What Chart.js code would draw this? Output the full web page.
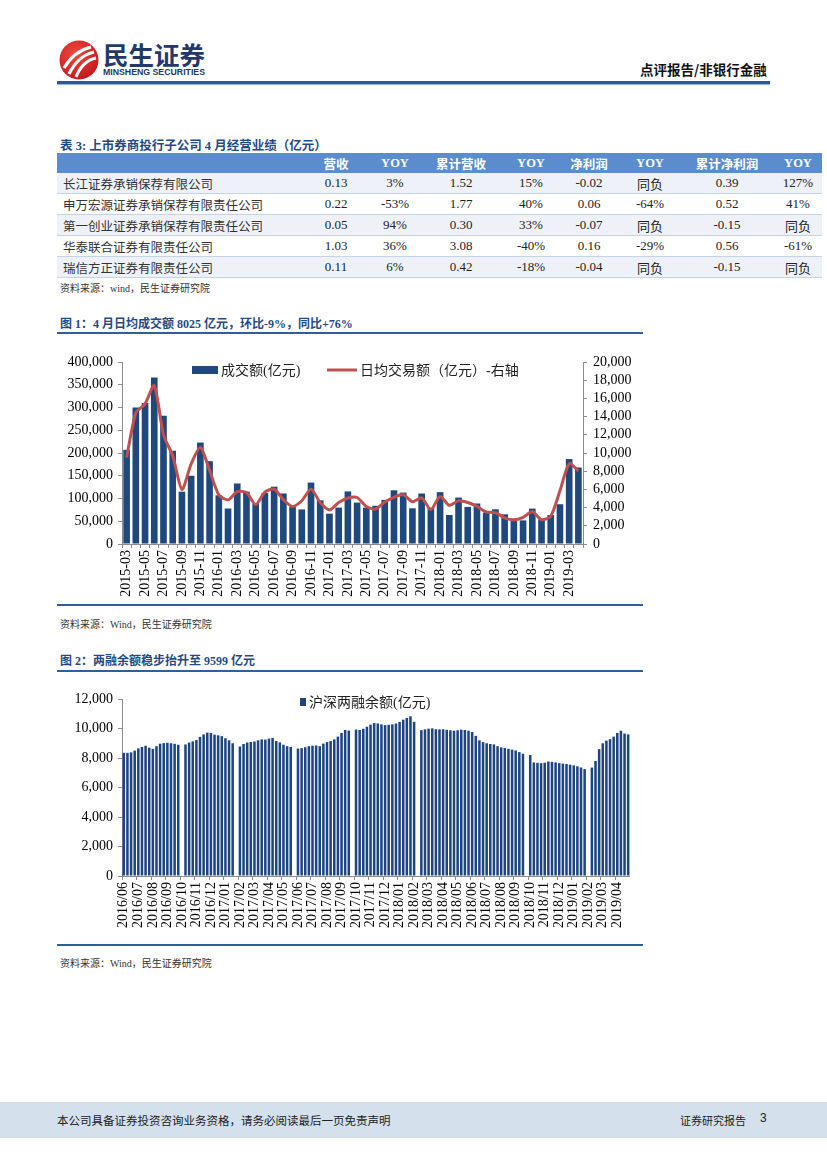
<!DOCTYPE html>
<html lang="zh-CN">
<head>
<meta charset="utf-8">
<title>点评报告/非银行金融</title>
<script src="https://cdn.jsdelivr.net/npm/chart.js@4.4.1/dist/chart.umd.min.js"></script>
<style>
  html, body { margin: 0; padding: 0; background: #fff; }
  body {
    width: 827px; height: 1169px; position: relative; overflow: hidden;
    font-family: "Liberation Serif", "Noto Sans CJK SC", serif; color: #222;
  }
  .abs { position: absolute; }
  .title { font-size: 12px; font-weight: bold; color: #1f4a86; white-space: nowrap; }
  .rule { background: #2d5f9f; height: 2px; }
  .src { font-size: 10px; color: #333; white-space: nowrap; }
  table { border-collapse: collapse; table-layout: fixed; font-size: 13px; }
  th { background: #5b8ccc; color: #fff; font-weight: bold; height: 20px; padding: 0;
       font-family: "Liberation Serif", "Noto Sans CJK SC", serif; font-size: 12.5px; }
  td { height: 20px; padding: 0; text-align: center; border-bottom: 1px solid #c3d3e8; }
  td.name { text-align: left; padding-left: 6px; font-size: 12.5px; color: #333; }
  tr.band td { background: #eef2f8; }
</style>
</head>
<body>

<!-- header -->
<svg class="abs" style="left:57px;top:38px" width="160" height="44">
  <defs>
    <radialGradient id="rg" cx="40%" cy="35%" r="70%">
      <stop offset="0" stop-color="#ef4a3f"/>
      <stop offset="1" stop-color="#c4161c"/>
    </radialGradient>
  </defs>
  <circle cx="22" cy="22" r="19.5" fill="url(#rg)"/>
  <path d="M7 30 C14 18 22 12 34 9" stroke="#fff" stroke-width="3.2" fill="none"/>
  <path d="M12 36 C18 24 25 17 37 14" stroke="#fff" stroke-width="3.2" fill="none"/>
  <path d="M19 39 C23 29 29 22 39 20" stroke="#fff" stroke-width="3" fill="none"/>
  <text x="46" y="27" font-family="Noto Sans CJK SC" font-weight="bold" font-size="25" fill="#24386a"
        textLength="102" lengthAdjust="spacingAndGlyphs">民生证券</text>
  <text x="46" y="37" font-family="Liberation Sans" font-weight="bold" font-size="8.5" fill="#24386a"
        textLength="102" lengthAdjust="spacingAndGlyphs">MINSHENG SECURITIES</text>
</svg>
<div class="abs" style="left:640px;top:59px;font-size:13.5px;font-weight:bold;color:#111;font-family:'Noto Sans CJK SC'">点评报告/非银行金融</div>
<div class="abs" style="left:57px;top:81px;width:713px;height:3px;background:#27589a"></div>
<div class="abs" style="left:57px;top:84px;width:713px;height:1px;background:#9ab7dd"></div>

<!-- table -->
<div class="abs title" style="left:60px;top:135px;font-size:12.5px">表 3: 上市券商投行子公司 4 月经营业绩（亿元）</div>
<table class="abs" id="tbl" style="left:57px;top:153px;width:765px">
  <colgroup>
    <col style="width:243px"><col style="width:72px"><col style="width:46px"><col style="width:86px">
    <col style="width:54px"><col style="width:62px"><col style="width:60px"><col style="width:94px"><col style="width:48px">
  </colgroup>
  <thead><tr id="thead"></tr></thead>
  <tbody id="tbody"></tbody>
</table>
<div class="abs src" style="left:60px;top:280px">资料来源：wind，民生证券研究院</div>

<!-- figure 1 -->
<div class="abs title" style="left:60px;top:314px">图 1：4 月日均成交额 8025 亿元，环比-9%，同比+76%</div>
<div class="abs rule" style="left:57px;top:332px;width:586px"></div>
<canvas class="abs" id="chart1" width="590" height="260" style="left:57px;top:345px"></canvas>
<div class="abs rule" style="left:57px;top:604px;width:586px"></div>
<div class="abs src" style="left:60px;top:616px">资料来源：Wind，民生证券研究院</div>

<!-- figure 2 -->
<div class="abs title" style="left:60px;top:651px">图 2：两融余额稳步抬升至 9599 亿元</div>
<div class="abs rule" style="left:57px;top:670px;width:586px"></div>
<canvas class="abs" id="chart2" width="590" height="255" style="left:57px;top:685px"></canvas>
<div class="abs rule" style="left:57px;top:944px;width:586px"></div>
<div class="abs src" style="left:60px;top:955px">资料来源：Wind，民生证券研究院</div>

<!-- footer -->
<div class="abs" style="left:0;top:1102px;width:827px;height:36px;background:#d5e0ed"></div>
<div class="abs" style="left:57px;top:1112px;font-size:11.5px;color:#222;font-family:'Noto Sans CJK SC'">本公司具备证券投资咨询业务资格，请务必阅读最后一页免责声明</div>
<div class="abs" style="left:680px;top:1112px;font-size:11px;color:#222;font-family:'Noto Sans CJK SC'">证券研究报告</div>
<div class="abs" style="left:760px;top:1111px;font-size:12px;color:#222;font-family:'Liberation Sans'">3</div>

<script>
// ---- table 3 ----
const tableHeads = ["", "营收", "YOY", "累计营收", "YOY", "净利润", "YOY", "累计净利润", "YOY"];
const companies = ["长江证券承销保荐有限公司", "申万宏源证券承销保荐有限责任公司", "第一创业证券承销保荐有限责任公司",
                   "华泰联合证券有限责任公司", "瑞信方正证券有限责任公司"];
const revenue = ["0.13", "0.22", "0.05", "1.03", "0.11"];
const revenueYoy = ["3%", "-53%", "94%", "36%", "6%"];
const cumRevenue = ["1.52", "1.77", "0.30", "3.08", "0.42"];
const cumRevenueYoy = ["15%", "40%", "33%", "-40%", "-18%"];
const netProfit = ["-0.02", "0.06", "-0.07", "0.16", "-0.04"];
const netProfitYoy = ["同负", "-64%", "同负", "-29%", "同负"];
const cumNetProfit = ["0.39", "0.52", "-0.15", "0.56", "-0.15"];
const cumNetProfitYoy = ["127%", "41%", "同负", "-61%", "同负"];

// ---- figure 1: monthly turnover ----
const months1 = [
  "2015-03", "2015-04", "2015-05", "2015-06", "2015-07", "2015-08", "2015-09", "2015-10", "2015-11", "2015-12",
  "2016-01", "2016-02", "2016-03", "2016-04", "2016-05", "2016-06", "2016-07", "2016-08", "2016-09", "2016-10", "2016-11", "2016-12",
  "2017-01", "2017-02", "2017-03", "2017-04", "2017-05", "2017-06", "2017-07", "2017-08", "2017-09", "2017-10", "2017-11", "2017-12",
  "2018-01", "2018-02", "2018-03", "2018-04", "2018-05", "2018-06", "2018-07", "2018-08", "2018-09", "2018-10", "2018-11", "2018-12",
  "2019-01", "2019-02", "2019-03", "2019-04"
];
const turnover = [
  207000, 300000, 310000, 366000, 282000, 205000, 115000, 150000, 223000, 182000,
  107000, 78000, 133000, 115000, 89000, 112000, 126000, 111000, 82000, 76000, 135000, 96000,
  66700, 80000, 115600, 91000, 80000, 84000, 97000, 118000, 113000, 78500, 111000, 80000,
  114000, 63700, 102000, 81500, 89000, 69000, 76300, 65200, 50400, 51900, 77800, 54100,
  63700, 87400, 186700, 168100
];
const dailyAvg = [
  9500, 14400, 15400, 17400, 12000, 9700, 6000, 8800, 10600, 8100,
  5400, 4850, 5750, 5650, 4330, 5700, 6030, 4870, 4120, 4750, 6030, 4550,
  3750, 4550, 5050, 5110, 4130, 3840, 4620, 5120, 5440, 4650, 5080, 3780,
  5220, 4250, 4740, 4560, 4130, 3520, 3440, 2880, 2660, 2930, 3560, 2670,
  3050, 5850, 8820, 8025
];
const barLabel1 = "成交额(亿元)";
const lineLabel1 = "日均交易额（亿元）-右轴";

// ---- figure 2: margin balance, four readings per month ----
const months2 = [
  "2016/06", "2016/07", "2016/08", "2016/09", "2016/10", "2016/11", "2016/12",
  "2017/01", "2017/02", "2017/03", "2017/04", "2017/05", "2017/06", "2017/07", "2017/08", "2017/09", "2017/10", "2017/11", "2017/12",
  "2018/01", "2018/02", "2018/03", "2018/04", "2018/05", "2018/06", "2018/07", "2018/08", "2018/09", "2018/10", "2018/11", "2018/12",
  "2019/01", "2019/02", "2019/03", "2019/04"
];
const marginBalance = [
  8350, 8350, 8380, 8500,     8650, 8750, 8830, 8700,     8620, 8800, 8970, 9010,     9030, 9000, 8960, 8900,
  null, 8920, 9050, 9130,     9220, 9430, 9600, 9720,     9700, 9580, 9540, 9480,
  9340, 9200, 9000, null,     8780, 8950, 9050, 9090,     9120, 9200, 9260, 9250,     9320, 9360, 9150, 9060,
  8900, 8800, 8750, null,     8640, 8670, 8730, 8800,     8830, 8850, 8800, 8980,     9080, 9150, 9260, 9450,
  9700, 9900, 9860, null,     9930, 9900, 9980, 10120,    10260, 10370, 10340, 10280,  10230, 10250, 10280, 10340,
  10450, 10600, 10720, 10830, 10450, null, 9890, 9940,    9990, 10010, 9950, 9940,     9950, 9910, 9880, 9850,
  9880, 9920, 9900, 9850,     9760, 9500, 9200, 9080,     9000, 8950, 8920, 8800,     8720, 8680, 8620, 8570,
  8510, 8400, 8290, null,     8200, 7700, 7670, 7650,     7680, 7760, 7740, 7700,     7650, 7620, 7590, 7550,
  7500, 7440, 7360, 7250,     null, 7350, 7800, 8600,     9000, 9180, 9280, 9450,     9700, 9850, 9660, 9600
];
const barLabel2 = "沪深两融余额(亿元)";

// build table
const thead = document.getElementById("thead");
tableHeads.forEach((h) => {
  const th = document.createElement("th");
  th.textContent = h;
  thead.appendChild(th);
});
const tbody = document.getElementById("tbody");
companies.forEach((name, i) => {
  const tr = document.createElement("tr");
  if (i % 2 === 0) tr.className = "band";
  const cells = [name, revenue[i], revenueYoy[i], cumRevenue[i], cumRevenueYoy[i],
                 netProfit[i], netProfitYoy[i], cumNetProfit[i], cumNetProfitYoy[i]];
  cells.forEach((c, j) => {
    const td = document.createElement("td");
    if (j === 0) td.className = "name";
    td.textContent = c;
    tr.appendChild(td);
  });
  tbody.appendChild(tr);
});

// legend drawn inside the plot area
const innerLegend = {
  id: "innerLegend",
  afterDraw(chart, args, opts) {
    const { ctx, chartArea } = chart;
    ctx.save();
    ctx.font = "14px 'Liberation Serif', 'Noto Sans CJK SC'";
    ctx.fillStyle = "#222";
    ctx.textBaseline = "middle";
    opts.items.forEach((it) => {
      const ds = chart.data.datasets[it.ds];
      const x = chartArea.left + it.x;
      const y = chartArea.top + it.y;
      if (it.kind === "box") {
        ctx.fillStyle = ds.backgroundColor;
        ctx.fillRect(x, y - it.h / 2, it.w, it.h);
      } else {
        ctx.strokeStyle = ds.borderColor;
        ctx.lineWidth = 3;
        ctx.beginPath();
        ctx.moveTo(x, y);
        ctx.lineTo(x + it.w, y);
        ctx.stroke();
      }
      ctx.fillStyle = "#222";
      ctx.fillText(ds.label, x + it.w + 3, y + 1);
    });
    ctx.restore();
  },
};

const tickFont = { family: "'Liberation Serif', 'Times New Roman'", size: 14 };
const axisGrey = "#8c8c8c";
const fmt = (v) => v.toLocaleString("en-US");

new Chart(document.getElementById("chart1"), {
  type: "bar",
  data: {
    labels: months1,
    datasets: [
      {
        type: "line",
        label: lineLabel1,
        data: dailyAvg,
        yAxisID: "y1",
        borderColor: "#c0504d",
        borderWidth: 3,
        pointRadius: 0,
        tension: 0.25,
        order: 0,
      },
      {
        type: "bar",
        label: barLabel1,
        data: turnover,
        yAxisID: "y",
        backgroundColor: "#1f497d",
        barPercentage: 0.72,
        categoryPercentage: 1,
        order: 1,
      },
    ],
  },
  options: {
    responsive: false,
    animation: false,
    layout: { padding: { top: 17 } },
    scales: {
      x: {
        grid: { drawOnChartArea: false, tickLength: 4, color: axisGrey },
        border: { color: axisGrey },
        ticks: {
          autoSkip: false, maxRotation: 90, minRotation: 90, padding: 2,
          color: "#000", font: tickFont,
          callback: function (value, index) {
            return index % 2 === 0 ? months1[index] : "";
          },
        },
        afterFit(scale) { scale.height = 61; },
      },
      y: {
        position: "left", min: 0, max: 400000,
        grid: { drawOnChartArea: false, tickLength: 4, color: axisGrey },
        border: { color: axisGrey },
        ticks: { stepSize: 50000, autoSkip: false, padding: 5, color: "#000", font: tickFont, callback: fmt },
        afterFit(scale) { scale.width = 65; },
      },
      y1: {
        position: "right", min: 0, max: 20000,
        grid: { drawOnChartArea: false, tickLength: 4, color: axisGrey },
        border: { color: axisGrey },
        ticks: { stepSize: 2000, autoSkip: false, padding: 6, color: "#000", font: tickFont, callback: fmt },
        afterFit(scale) { scale.width = 64; },
      },
    },
    plugins: {
      legend: { display: false },
      tooltip: { enabled: false },
      innerLegend: {
        items: [
          { kind: "box", ds: 1, x: 70, y: 8, w: 26, h: 8 },
          { kind: "line", ds: 0, x: 205, y: 8, w: 30 },
        ],
      },
    },
  },
  plugins: [innerLegend],
});

// four slots per month, label shown on the first slot of each month
const slots2 = months2.flatMap((m) => [m, m, m, m]);

new Chart(document.getElementById("chart2"), {
  type: "bar",
  data: {
    labels: slots2,
    datasets: [
      {
        label: barLabel2,
        data: marginBalance,
        backgroundColor: "#1f4580",
        barPercentage: 0.7,
        categoryPercentage: 1,
      },
    ],
  },
  options: {
    responsive: false,
    animation: false,
    layout: { padding: { top: 14, right: 7 } },
    scales: {
      x: {
        grid: {
          drawOnChartArea: false, tickLength: 4,
          tickColor: (ctx) => (ctx.index % 4 === 0 ? axisGrey : "rgba(0,0,0,0)"),
        },
        border: { color: axisGrey },
        ticks: {
          autoSkip: false, maxRotation: 90, minRotation: 90, padding: 2,
          color: "#000", font: tickFont,
          callback: function (value, index) {
            return index % 4 === 0 ? slots2[index] : "";
          },
        },
        afterFit(scale) { scale.height = 64; },
      },
      y: {
        min: 0, max: 12000,
        grid: { drawOnChartArea: false, tickLength: 4, color: axisGrey },
        border: { color: axisGrey },
        ticks: { stepSize: 2000, autoSkip: false, padding: 5, color: "#000", font: tickFont, callback: fmt },
        afterFit(scale) { scale.width = 65; },
      },
    },
    plugins: {
      legend: { display: false },
      tooltip: { enabled: false },
      innerLegend: {
        items: [{ kind: "box", ds: 0, x: 178, y: 3, w: 6, h: 8 }],
      },
    },
  },
  plugins: [innerLegend],
});
</script>
</body>
</html>
